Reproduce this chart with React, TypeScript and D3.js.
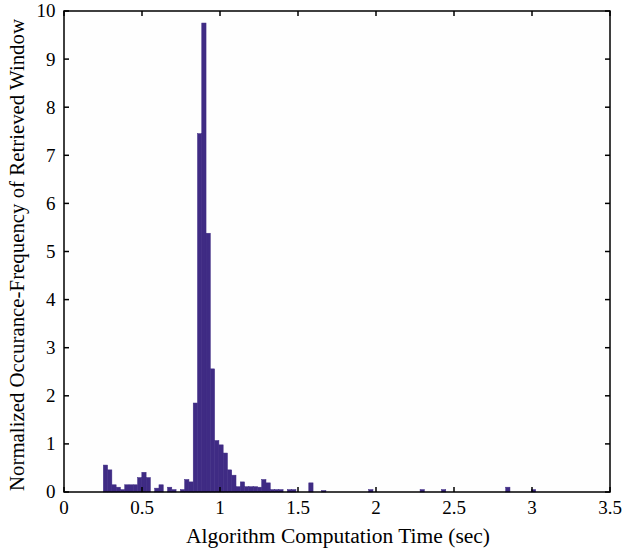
import React from "react";
import * as d3 from "d3";

const binStart = 0.252;
const binWidth = 0.02744;
// heights per bin index (normalized frequency)
const binIndex = [0,1,2,3,4,5,6,7,8,9,10,12,13,15,16,18,19,20,21,22,23,24,25,26,27,28,29,30,31,32,33,34,35,36,37,38,39,40,41,43,44,48,51,62,74,79,94,100];
const binValue = [0.56,0.46,0.15,0.1,0.05,0.15,0.15,0.15,0.3,0.41,0.3,0.08,0.15,0.1,0.05,0.05,0.26,0.21,1.85,7.45,9.75,5.38,2.56,1.07,0.98,0.81,0.46,0.35,0.11,0.21,0.11,0.11,0.11,0.1,0.26,0.19,0.05,0.05,0.05,0.05,0.05,0.19,0.03,0.05,0.05,0.05,0.1,0.05];
const xTicks = [0,0.5,1,1.5,2,2.5,3,3.5];
const yTicks = [0,1,2,3,4,5,6,7,8,9,10];
const xLabel = "Algorithm Computation Time (sec)";
const yLabel = "Normalized Occurance-Frequency of Retrieved Window";

export default function App() {
  const W = 622, H = 552;
  const L = 64, R = 610, T = 11, B = 492;
  const x = d3.scaleLinear().domain([0, 3.5]).range([L, R]);
  const y = d3.scaleLinear().domain([0, 10]).range([B, T]);
  const font = "'Liberation Serif', 'DejaVu Serif', serif";
  const color = "#3f2b84";
  const tl = 5;
  return (
    <svg width={W} height={H} style={{ position: "absolute", left: 0, top: 0 }}>
      <rect x={0} y={0} width={W} height={H} fill="#fff" />
      <rect x={L} y={T} width={R - L} height={B - T} fill="#fefefe" />
      {binIndex.map((b, i) => {
        const x0 = x(binStart + b * binWidth);
        const x1 = x(binStart + (b + 1) * binWidth);
        return (
          <rect key={i} x={x0} y={y(binValue[i])} width={x1 - x0} height={B - y(binValue[i])} fill={color} stroke={color} strokeWidth={0.5} />
        );
      })}
      <rect x={L} y={T} width={R - L} height={B - T} fill="none" stroke="#000" strokeWidth={1.5} />
      {xTicks.map((t) => (
        <g key={"x" + t}>
          <line x1={x(t)} x2={x(t)} y1={B} y2={B - tl} stroke="#000" strokeWidth={1.5} />
          <line x1={x(t)} x2={x(t)} y1={T} y2={T + tl} stroke="#000" strokeWidth={1.5} />
          <text x={x(t)} y={514} textAnchor="middle" fontFamily={font} fontSize={19}>{String(t)}</text>
        </g>
      ))}
      {yTicks.map((t) => (
        <g key={"y" + t}>
          <line x1={L} x2={L + tl} y1={y(t)} y2={y(t)} stroke="#000" strokeWidth={1.5} />
          <line x1={R} x2={R - tl} y1={y(t)} y2={y(t)} stroke="#000" strokeWidth={1.5} />
          <text x={55.5} y={y(t)} dy="0.34em" textAnchor="end" fontFamily={font} fontSize={19}>{String(t)}</text>
        </g>
      ))}
      <text x={(186 + 490) / 2} y={543} textAnchor="middle" fontFamily={font} fontSize={20} textLength={304} lengthAdjust="spacingAndGlyphs">{xLabel}</text>
      <text transform={`translate(24, ${(18 + 492) / 2}) rotate(-90)`} textAnchor="middle" fontFamily={font} fontSize={20} textLength={472} lengthAdjust="spacingAndGlyphs">{yLabel}</text>
    </svg>
  );
}
